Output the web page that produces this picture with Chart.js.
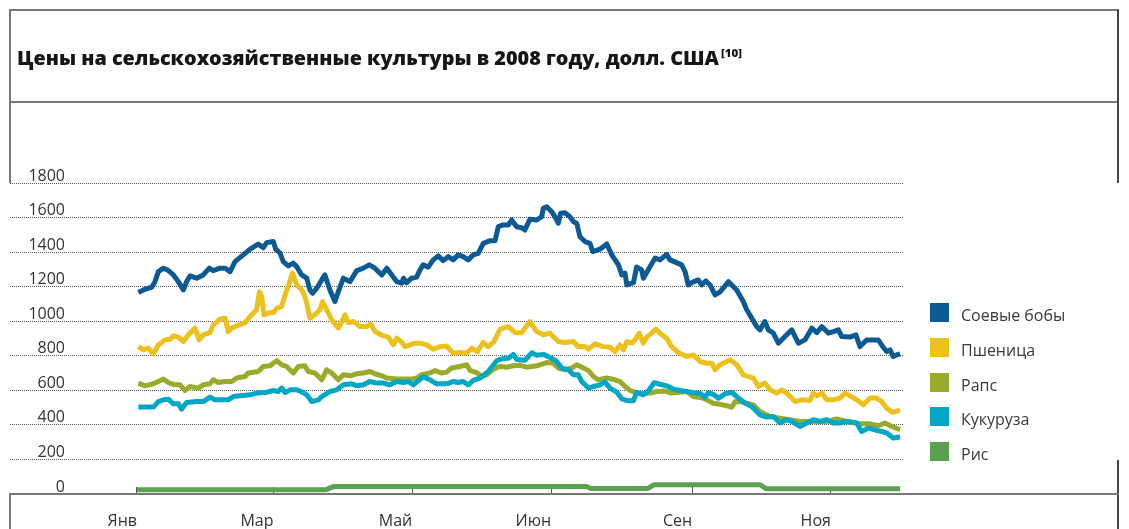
<!DOCTYPE html>
<html lang="ru">
<head>
<meta charset="utf-8">
<title>Цены на сельскохозяйственные культуры в 2008 году</title>
<script src="https://cdn.jsdelivr.net/npm/chart.js"></script>
<style>
  html, body { margin: 0; padding: 0; background: #fff; }
  #box { position: relative; width: 1129px; height: 529px; overflow: hidden; font-family: "Open Sans", sans-serif; }
  #chart { position: absolute; left: 0; top: 0; }
  .rule { position: absolute; background: #777; }
  #title { position: absolute; left: 17px; top: 45px; font-size: 19px; font-weight: 800; color: #161616; white-space: nowrap; transform-origin: 0 0; }
  #title sup { font-size: 11px; vertical-align: 8px; line-height: 0; margin-left: 2px; }
  #legend { position: absolute; left: 930px; top: 303px; }
  .item { height: 34.75px; display: flex; align-items: flex-start; }
  .swatch { width: 19px; height: 19px; flex: none; }
  .name { margin-left: 12px; font-size: 16px; line-height: 19px; color: #3a3a3a; position: relative; top: 3px; white-space: nowrap; }
</style>
</head>
<body>
<div id="box">
  <canvas id="chart" width="1129" height="529"></canvas>
  <div class="rule" style="left:9px;top:9px;width:1110px;height:2px"></div>
  <div class="rule" style="left:9px;top:101px;width:1110px;height:2px"></div>
  <div class="rule" style="left:9px;top:9px;width:2px;height:174px"></div>
  <div class="rule" style="left:1117px;top:9px;width:2px;height:174px;background:#444"></div>
  <div class="rule" style="left:9px;top:493px;width:2px;height:36px"></div>
  <div class="rule" style="left:1117px;top:460px;width:2px;height:69px;background:#444"></div>
  <div class="rule" style="left:9px;top:493px;width:1110px;height:2px"></div>
  <div id="title">Цены на сельскохозяйственные культуры в 2008 году, долл. США<sup>[10]</sup></div>
  <div id="legend"></div>
</div>
<script>
  // x = день года (0 = 1 января 2008)
  const monthDays = [0, 60, 121, 182, 244, 305];
  const monthLabels = ['Янв', 'Мар', 'Май', 'Июн', 'Сен', 'Ноя'];

  const crops = ['Соевые бобы', 'Пшеница', 'Рапс', 'Кукуруза', 'Рис'];
  const colors = ['#0b5a94', '#ecc11e', '#9aab2c', '#02a7c6', '#5aa152'];

  const soyDays = [0.6,3.5,6.5,7.9,9.4,11.6,13.8,16.0,18.2,20.4,
    21.8,23.3,26.2,29.1,31.8,33.5,36.5,38.7,40.9,43.1,
    46.7,49.7,53.3,55.5,57.0,59.9,61.0,62.9,64.3,66.5,
    68.7,70.2,72.4,74.6,76.0,77.2,79.0,81.2,82.6,84.8,
    87.0,88.5,90.7,93.6,96.6,99.5,102.1,104.6,107.6,109.8,
    112.0,114.2,116.4,117.1,118.5,120.7,122.9,124.4,125.8,128.0,
    130.2,132.4,134.6,136.8,139.0,141.2,143.4,145.6,147.8,150.0,
    152.2,155.2,157.4,158.8,161.0,163.2,164.7,166.9,169.1,170.5,
    172.7,175.7,177.9,178.6,180.1,182.3,183.7,185.2,186.2,188.1,
    190.3,191.8,193.3,194.7,196.9,199.1,200.3,203.5,206.5,208.7,
    211.6,213.1,214.5,215.3,218.2,219.6,221.8,222.6,225.5,227.7,
    229.9,232.8,234.3,239.4,240.9,242.3,244.5,246.7,248.2,250.1,
    251.9,254.1,256.3,260.0,263.6,266.5,268.0,270.2,272.4,273.8,
    276.0,277.5,279.7,281.9,284.8,287.8,290.7,293.6,296.6,298.8,
    301.0,303.9,306.1,308.3,309.8,313.4,316.0,317.8,320.7,323.6,
    325.8,327.3,329.5,331.0,332.4,333.9,335.4];
  const soyPrices = [1166,1185,1197,1229,1287,1307,1293,1268,1229,1181,
    1229,1262,1249,1268,1307,1293,1307,1307,1287,1345,
    1384,1417,1446,1426,1455,1461,1417,1393,1345,1320,
    1336,1316,1268,1249,1181,1162,1191,1239,1268,1181,
    1114,1171,1249,1229,1293,1307,1326,1307,1268,1307,
    1268,1229,1220,1249,1223,1249,1255,1297,1326,1313,
    1355,1378,1351,1374,1355,1384,1374,1355,1384,1393,
    1451,1466,1466,1547,1557,1557,1586,1547,1541,1528,
    1590,1586,1605,1654,1663,1634,1605,1567,1625,1628,
    1605,1576,1567,1489,1461,1451,1403,1417,1447,1384,
    1326,1268,1278,1210,1223,1314,1297,1249,1316,1365,
    1355,1387,1355,1326,1287,1210,1228,1239,1210,1233,
    1210,1152,1170,1229,1181,1114,1066,1018,969,950,
    998,950,931,873,911,950,873,892,960,934,
    969,931,940,950,911,908,921,853,892,892,
    892,863,824,834,796,805,811];

  const wheatDays = [0.6,2.8,5.0,7.2,9.4,12.3,14.5,16.0,18.2,20.4,
    22.5,25.5,27.3,29.1,32.1,33.5,36.5,38.7,40.1,41.6,
    43.8,47.5,49.7,52.6,53.8,54.8,55.8,57.7,59.9,61.4,
    63.6,65.1,66.9,68.3,70.2,72.4,73.8,74.6,76.0,78.2,
    80.4,81.6,83.4,85.6,88.5,90.0,91.4,92.9,95.1,98.0,
    101.0,102.7,104.6,108.3,110.5,112.7,114.2,116.4,117.8,120.0,
    122.2,124.4,127.3,130.2,133.2,136.1,138.8,142.0,144.9,147.1,
    149.6,152.2,154.4,156.9,159.6,163.2,166.2,169.1,172.7,175.7,
    178.6,181.5,185.2,188.1,191.8,194.0,196.9,198.4,201.3,205.0,
    207.9,210.1,212.3,213.8,215.3,217.4,218.9,220.8,222.5,224.3,
    226.2,228.1,229.9,232.8,235.0,237.9,241.6,244.5,247.5,250.4,
    252.6,254.1,256.3,260.7,263.6,265.1,266.5,268.7,270.9,273.1,
    276.0,278.2,281.2,283.4,285.6,289.2,292.2,295.8,297.3,298.8,
    301.0,303.2,306.1,309.0,311.2,313.4,316.4,319.3,322.2,325.1,
    327.3,329.5,332.2,335.4];
  const wheatPrices = [853,834,844,811,863,892,896,915,908,882,
    921,960,892,921,934,979,1012,1018,940,960,
    973,992,1027,1066,1171,1143,1037,1047,1050,1075,
    1085,1152,1220,1278,1210,1181,1143,1104,1018,1037,
    1066,1114,1066,1008,960,998,1037,992,998,969,
    969,985,940,915,908,863,902,877,853,863,
    873,873,863,838,853,857,815,819,815,844,
    824,877,853,882,954,969,934,934,998,940,
    921,931,882,877,882,853,853,838,869,853,
    850,824,863,834,882,873,892,931,873,911,
    931,954,931,902,853,819,796,805,767,757,
    757,719,748,777,748,719,690,680,671,622,
    642,603,584,603,584,535,545,541,584,568,
    584,545,545,555,584,568,545,516,555,555,
    535,497,472,487];

  const rapeDays = [0.6,3.5,7.2,9.4,11.6,13.8,16.7,18.9,21.1,23.3,
    26.9,29.1,32.1,33.5,35.7,38.7,41.6,43.8,47.5,48.9,
    53.3,55.5,58.5,61.4,63.6,65.8,68.7,70.9,73.8,75.3,
    78.2,81.2,83.4,85.6,88.5,90.7,93.6,96.6,99.5,102.4,
    104.6,107.6,109.8,114.2,117.1,120.7,122.9,125.1,128.8,131.0,
    133.9,136.1,138.3,142.0,144.9,146.4,149.3,151.5,153.7,156.6,
    159.6,162.5,165.4,168.4,171.3,175.7,180.1,183.0,185.2,188.1,
    191.1,193.3,195.5,198.4,200.6,202.8,206.5,210.1,212.3,214.5,
    216.7,219.6,222.5,226.2,228.4,232.1,235.0,241.6,244.5,248.9,
    253.3,256.3,259.3,261.4,262.9,265.1,268.0,270.9,273.8,278.2,
    282.6,287.0,291.4,297.3,303.2,307.6,312.0,317.8,322.2,325.9,
    328.8,331.8,335.4];
  const rapePrices = [642,626,638,651,665,645,632,632,599,622,
    613,632,638,661,645,651,651,671,680,700,
    709,738,742,772,748,738,700,738,742,709,
    700,661,719,700,661,690,684,696,700,709,
    696,684,671,665,665,665,671,690,701,715,
    700,705,729,738,748,715,703,680,690,723,
    739,734,742,745,734,742,761,757,729,719,
    729,748,734,715,680,661,672,661,651,622,
    600,586,580,586,593,596,584,593,564,555,
    525,519,511,502,534,535,526,516,478,449,
    439,430,420,420,420,434,420,406,406,395,
    411,391,372];

  const cornDays = [0.6,7.2,9.4,11.6,13.8,16.0,18.2,19.6,21.8,26.2,
    29.1,32.1,34.3,37.2,40.1,42.3,45.3,49.7,52.6,56.3,
    59.9,62.1,63.6,65.1,67.3,70.2,73.1,74.6,76.8,79.7,
    81.2,84.8,87.8,90.7,94.4,96.6,99.5,102.4,105.4,108.3,
    111.2,114.2,117.1,119.3,121.5,124.4,125.8,128.8,131.7,136.1,
    139.0,141.2,143.4,145.6,147.8,150.8,154.4,158.1,159.6,161.8,
    163.2,165.4,166.9,170.5,173.5,175.7,178.6,181.5,184.5,186.7,
    189.6,191.8,194.0,195.5,198.4,200.6,203.5,205.7,207.9,210.9,
    213.1,216.0,218.2,219.6,222.5,224.8,227.3,229.9,232.8,235.8,
    238.7,241.6,244.5,247.5,249.7,251.1,253.3,255.6,258.5,261.4,
    264.3,267.3,270.2,273.8,276.8,279.7,282.6,285.6,287.8,291.4,
    294.4,297.3,300.2,303.2,306.1,309.0,312.0,316.4,318.5,321.5,
    325.1,327.3,329.5,332.4,335.4];
  const cornPrices = [503,503,535,545,549,522,522,491,530,535,
    535,561,545,545,545,564,568,574,584,587,
    599,593,613,587,603,603,587,574,535,545,
    564,593,603,632,638,626,632,651,642,642,
    632,651,645,651,632,664,678,661,638,638,
    651,645,651,632,658,671,709,771,779,786,
    786,808,779,774,817,803,808,791,767,729,
    719,690,690,651,613,622,632,649,613,589,
    551,539,539,589,574,597,644,635,626,607,
    599,594,586,583,560,586,577,555,580,589,
    555,526,506,458,445,449,411,430,420,391,
    411,430,420,430,411,411,420,411,362,382,
    368,362,353,324,330];

  const riceDays = [0, 83.1, 86.6, 197.4, 199.6, 224.6, 227.3, 273.8, 276.5, 335.4];
  const ricePrices = [25, 25, 44, 44, 32, 32, 54, 54, 31, 31];

  const allDays = [soyDays, wheatDays, rapeDays, cornDays, riceDays];
  const allPrices = [soyPrices, wheatPrices, rapePrices, cornPrices, ricePrices];
  const drawOrder = [1, 2, 4, 3, 5];

  Chart.defaults.font.family = '"Open Sans", sans-serif';

  const datasets = crops.map((name, i) => ({
    label: name,
    data: allDays[i].map((d, j) => ({ x: d, y: allPrices[i][j] })),
    borderColor: colors[i],
    backgroundColor: colors[i],
    borderWidth: 5,
    borderJoinStyle: 'round',
    pointRadius: 0,
    tension: 0,
    order: drawOrder[i]
  }));

  const chart = new Chart(document.getElementById('chart'), {
    type: 'line',
    data: { datasets },
    options: {
      responsive: false,
      animation: false,
      devicePixelRatio: 1,
      layout: { padding: { left: 10, right: 226, top: 183, bottom: 0 } },
      plugins: { legend: { display: false }, tooltip: { enabled: false } },
      scales: {
        x: {
          type: 'linear',
          min: -29.45,
          max: 336.7,
          afterBuildTicks: s => { s.ticks = monthDays.map(v => ({ value: v })); },
          afterFit: s => { s.height = 35; },
          grid: { drawOnChartArea: false, drawTicks: true, tickLength: -7, tickColor: '#555', tickWidth: 1 },
          border: { display: false },
          ticks: {
            autoSkip: false,
            maxRotation: 0,
            align: 'end',
            padding: 25,
            color: '#333',
            font: { size: 16 },
            callback: (v, i) => monthLabels[i]
          }
        },
        y: {
          min: 0,
          max: 1800,
          // левая полоса под подписи: пунктир сетки продолжается метками
          afterFit: s => { s.width = 60; },
          grid: { color: '#555', lineWidth: 1, drawTicks: true, tickLength: 60, tickColor: '#555', tickWidth: 1, tickBorderDash: [1, 1] },
          border: { display: false, dash: [1, 1] },
          ticks: {
            stepSize: 200,
            autoSkip: false,
            padding: -55,
            labelOffset: -7,
            color: '#333',
            font: { size: 16 },
            callback: v => String(v)
          }
        }
      }
    }
  });

  // легенда справа
  const legend = document.getElementById('legend');
  chart.data.datasets.forEach(ds => {
    const row = document.createElement('div');
    row.className = 'item';
    row.innerHTML = '<span class="swatch" style="background:' + ds.borderColor + '"></span><span class="name">' + ds.label + '</span>';
    legend.appendChild(row);
  });

  // растянуть заголовок до ширины оригинала
  const title = document.getElementById('title');
  const w = title.getBoundingClientRect().width;
  title.style.transform = 'scaleX(' + (725 / w).toFixed(3) + ')';
</script>
</body>
</html>
